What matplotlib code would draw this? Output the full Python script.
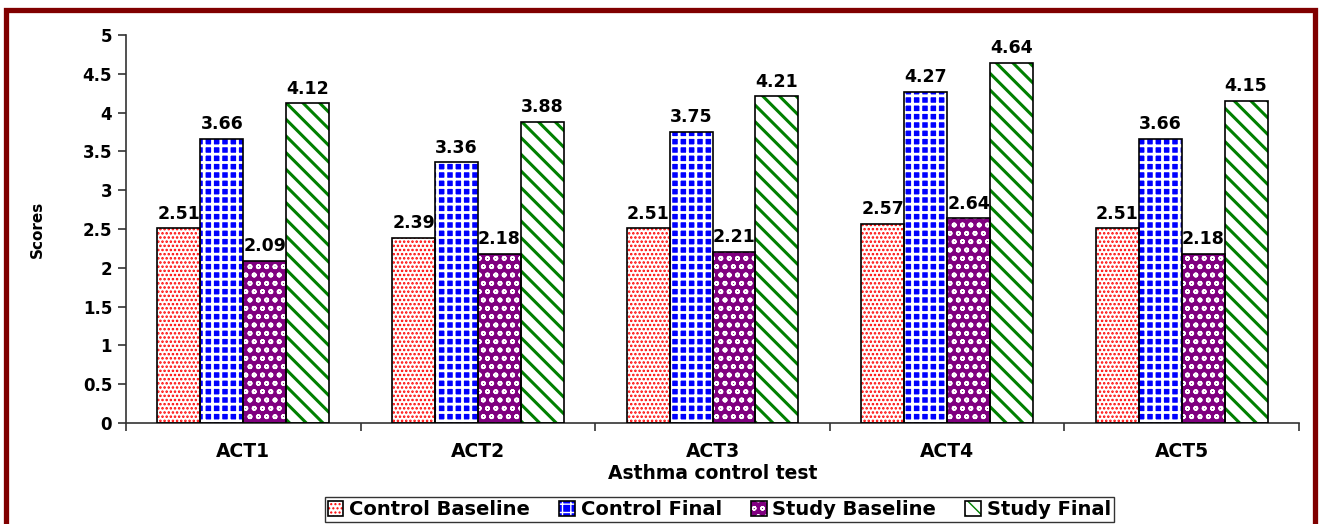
import numpy as np
import matplotlib
matplotlib.use("Agg")
import matplotlib.pyplot as plt
from matplotlib.patches import Rectangle
from matplotlib.legend_handler import HandlerTuple

categories = ["ACT1", "ACT2", "ACT3", "ACT4", "ACT5"]
series_names = ["Control Baseline", "Control Final", "Study Baseline", "Study Final"]
control_baseline = [2.51, 2.39, 2.51, 2.57, 2.51]
control_final = [3.66, 3.36, 3.75, 4.27, 3.66]
study_baseline = [2.09, 2.18, 2.21, 2.64, 2.18]
study_final = [4.12, 3.88, 4.21, 4.64, 4.15]
y_ticks = [0, 0.5, 1, 1.5, 2, 2.5, 3, 3.5, 4, 4.5, 5]

plt.rcParams["font.family"] = ["DejaVu Sans"]
plt.rcParams["font.weight"] = "bold"

# face colour, hatch colour, hatch pattern, hatch line width
styles = [
    ("white", "red", "....", 1.2),
    ("blue", "white", "++", 2.0),
    ("#800080", "white", "oo", 1.2),
    ("white", "green", "\\\\", 2.2),
]

fig = plt.figure(figsize=(13.2, 5.24), dpi=100)
ax = fig.add_axes([0.0955, 0.1927, 0.8886, 0.7405])

x = np.arange(len(categories))
w = 0.183
data = [control_baseline, control_final, study_baseline, study_final]
handles = []
for i, vals in enumerate(data):
    face, hcol, hatch, hlw = styles[i]
    pos = x + (i - 1.5) * w
    with plt.rc_context({"hatch.linewidth": hlw}):
        fill = ax.bar(pos, vals, w, color=face, edgecolor=hcol, hatch=hatch,
                      linewidth=0, zorder=2)
    outline = ax.bar(pos, vals, w, fill=False, edgecolor="black",
                     linewidth=1.2, zorder=3)
    ax.bar_label(outline, labels=[f"{v:.2f}" for v in vals], padding=4,
                 fontsize=12.5, fontweight="bold")
    handles.append((fill, outline))

ax.set_xlim(-0.5, len(categories) - 0.5)
ax.set_ylim(0, 5)
ax.set_yticks(y_ticks)
ax.set_yticklabels([f"{t:g}" for t in y_ticks], fontsize=12, fontweight="bold")
ax.set_xticks(np.arange(len(categories) + 1) - 0.5)
ax.set_xticklabels([])
ax.set_xticks(x, minor=True)
ax.set_xticklabels(categories, minor=True, fontsize=13.5, fontweight="bold")
ax.tick_params(axis="x", which="minor", length=0, pad=14)
ax.tick_params(axis="both", which="major", length=6, width=1.2,
               color="#333333", direction="out")
ax.tick_params(axis="y", pad=4)
for side in ("top", "right"):
    ax.spines[side].set_visible(False)
for side in ("left", "bottom"):
    ax.spines[side].set_color("#333333")
    ax.spines[side].set_linewidth(1.2)

ax.set_xlabel("Asthma control test", fontsize=13.5, fontweight="bold", labelpad=2)
ax.set_ylabel("Scores", fontsize=11, fontweight="bold")
ax.yaxis.set_label_coords(-0.069, 0.5)

leg = fig.legend(handles, series_names, loc="center", bbox_to_anchor=(0.545, 0.027),
                 ncol=4, fontsize=14, frameon=True, fancybox=False,
                 handlelength=0.8, handleheight=0.8, handletextpad=0.3,
                 columnspacing=1.5, borderpad=0.15,
                 handler_map={tuple: HandlerTuple(ndivide=1)})
leg.get_frame().set_edgecolor("black")
leg.get_frame().set_linewidth(1.0)

# dark red frame around the chart area
fig.patches.append(Rectangle((0.0049, -0.05), 0.9913, 1.031, transform=fig.transFigure,
                             fill=False, edgecolor="#800000", linewidth=3.8))

fig.savefig("out.png", dpi=100)
